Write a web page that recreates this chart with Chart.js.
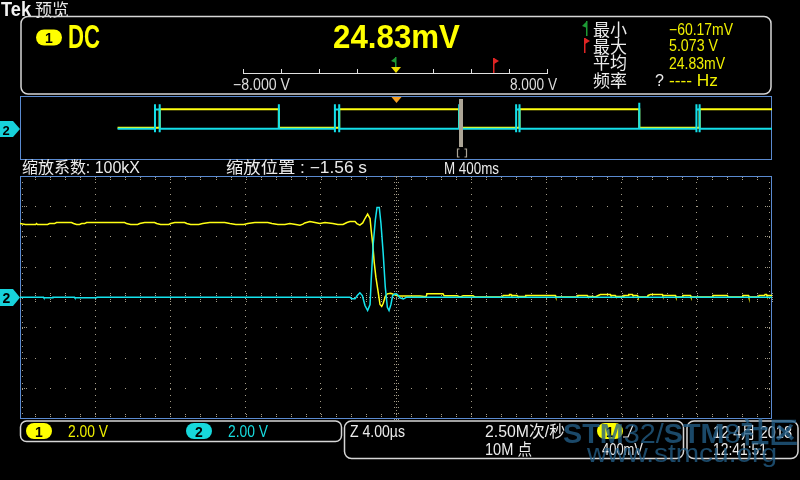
<!DOCTYPE html>
<html><head><meta charset="utf-8"><title>Tek 预览</title>
<script src="https://cdn.jsdelivr.net/npm/chart.js@4.4.1/dist/chart.umd.min.js"></script>
<style>
html,body{margin:0;padding:0;background:#000;}
#wrap{position:relative;width:800px;height:480px;overflow:hidden;background:#000}
#wrap canvas,#wrap svg{position:absolute;left:0;top:0}
svg text{font-family:"Liberation Sans","DejaVu Sans","Noto Sans CJK SC",sans-serif;}
svg .cjk{font-family:"Noto Sans CJK SC","Liberation Sans",sans-serif;}
</style></head>
<body><div id="wrap">
<canvas id="ov" width="800" height="480"></canvas>
<canvas id="main" width="800" height="480"></canvas>
<svg id="ui" width="800" height="480" viewBox="0 0 800 480">
  <!-- header -->
  <text x="1" y="16" font-family="Liberation Serif" font-weight="bold" font-size="20" fill="#f2f2f2" textLength="30" lengthAdjust="spacingAndGlyphs">Tek</text>
  <text class="cjk" x="35" y="15.5" font-size="17" fill="#e8e8e8" textLength="34" lengthAdjust="spacingAndGlyphs">预览</text>

  <!-- measurement box -->
  <rect x="21" y="16.5" width="750" height="77.5" rx="7" fill="none" stroke="#d6d6d6" stroke-width="1.5"/>
  <rect x="36" y="29.5" width="26" height="16" rx="8" fill="#ffff00"/>
  <text x="49" y="43" font-size="14" font-weight="bold" fill="#000" text-anchor="middle">1</text>
  <text x="68" y="48" font-size="34" font-weight="bold" fill="#ffff00" textLength="32" lengthAdjust="spacingAndGlyphs">DC</text>
  <text x="333" y="48" font-size="34" font-weight="bold" fill="#ffff00" textLength="127" lengthAdjust="spacingAndGlyphs">24.83mV</text>

  <!-- measurement scale bar -->
  <g stroke="#e0e0e0" stroke-width="1">
    <line x1="243" y1="73.5" x2="547.5" y2="73.5"/>
    <line x1="243.5" y1="69" x2="243.5" y2="74"/>
    <line x1="281.5" y1="69" x2="281.5" y2="74"/>
    <line x1="319.5" y1="69" x2="319.5" y2="74"/>
    <line x1="357.5" y1="69" x2="357.5" y2="74"/>
    <line x1="433.5" y1="69" x2="433.5" y2="74"/>
    <line x1="471.5" y1="69" x2="471.5" y2="74"/>
    <line x1="509.5" y1="69" x2="509.5" y2="74"/>
    <line x1="547.5" y1="69" x2="547.5" y2="74"/>
  </g>
  <rect x="395" y="57" width="1.5" height="10" fill="#1d9a35"/>
  <polygon points="391,61 396,57 396,63" fill="#1d9a35"/>
  <polygon points="391,67 401,67 396,73" fill="#f0e000"/>
  <rect x="493" y="58" width="1.5" height="15" fill="#e02424"/>
  <polygon points="494,58 499,61 494,64" fill="#e02424"/>
  <text x="233" y="90" font-size="16" fill="#dcdcdc" textLength="57" lengthAdjust="spacingAndGlyphs">−8.000 V</text>
  <text x="510" y="90" font-size="16" fill="#dcdcdc" textLength="47" lengthAdjust="spacingAndGlyphs">8.000 V</text>

  <!-- measurement list -->
  <rect x="586" y="21" width="1.5" height="15" fill="#1d9a35"/>
  <polygon points="582,26 587,21 587,28" fill="#1d9a35"/>
  <rect x="584" y="38" width="1.5" height="15" fill="#e02424"/>
  <polygon points="585,38 590,41 585,44" fill="#e02424"/>
  <text class="cjk" x="593" y="35.5" font-size="17" fill="#ececec" textLength="34" lengthAdjust="spacingAndGlyphs">最小</text>
  <text class="cjk" x="593" y="52.5" font-size="17" fill="#ececec" textLength="34" lengthAdjust="spacingAndGlyphs">最大</text>
  <text class="cjk" x="593" y="69" font-size="17" fill="#ececec" textLength="34" lengthAdjust="spacingAndGlyphs">平均</text>
  <text class="cjk" x="593" y="86.5" font-size="17" fill="#ececec" textLength="34" lengthAdjust="spacingAndGlyphs">频率</text>
  <text x="655" y="85.5" font-size="16" fill="#ececec">?</text>
  <text x="669" y="34.5" font-size="16" fill="#f0f000" textLength="64" lengthAdjust="spacingAndGlyphs">−60.17mV</text>
  <text x="669" y="51" font-size="16" fill="#f0f000" textLength="49" lengthAdjust="spacingAndGlyphs">5.073 V</text>
  <text x="669" y="68.5" font-size="16" fill="#f0f000" textLength="56" lengthAdjust="spacingAndGlyphs">24.83mV</text>
  <text x="669" y="85.5" font-size="16" fill="#f0f000" textLength="49" lengthAdjust="spacingAndGlyphs">---- Hz</text>

  <!-- overview decorations -->
  <polygon points="391.5,97 401.5,97 396.5,103" fill="#f5a023"/>
  <rect x="459" y="99" width="4" height="48" fill="#aca596"/>
  <path d="M459.5,149 h-2 v8 h2 M464.5,149 h2 v8 h-2" fill="none" stroke="#aca596" stroke-width="1.2"/>
  <polygon points="0,121 13,121 20,129 13,137 0,137" fill="#17d2db"/>
  <text x="6" y="134.5" font-size="13" font-weight="bold" fill="#000" text-anchor="middle">2</text>

  <!-- main ch2 marker -->
  <polygon points="0,289 13,289 20,297.5 13,306 0,306" fill="#17d2db"/>
  <text x="6.5" y="303" font-size="14" font-weight="bold" fill="#000" text-anchor="middle">2</text>

  <!-- zoom labels -->
  <text x="22" y="173" font-size="16" fill="#ececec" textLength="118" lengthAdjust="spacingAndGlyphs">缩放系数: 100kX</text>
  <text x="226" y="173" font-size="16" fill="#ececec" textLength="141" lengthAdjust="spacingAndGlyphs">缩放位置 : −1.56 s</text>
  <text x="444" y="173.5" font-size="16" fill="#ececec" textLength="55" lengthAdjust="spacingAndGlyphs">M 400ms</text>

  <!-- bottom status -->
  <rect x="20.5" y="421" width="321" height="20.5" rx="6" fill="none" stroke="#d6d6d6" stroke-width="1.5"/>
  <rect x="26" y="423" width="26" height="16" rx="8" fill="#ffff00"/>
  <text x="39" y="436.5" font-size="14" font-weight="bold" fill="#000" text-anchor="middle">1</text>
  <text x="68" y="437" font-size="16" fill="#f0f000" textLength="40" lengthAdjust="spacingAndGlyphs">2.00 V</text>
  <rect x="186" y="423" width="26" height="16" rx="8" fill="#17d8dc"/>
  <text x="199" y="436.5" font-size="14" font-weight="bold" fill="#000" text-anchor="middle">2</text>
  <text x="228" y="437" font-size="16" fill="#17dcdf" textLength="40" lengthAdjust="spacingAndGlyphs">2.00 V</text>

  <rect x="344.5" y="421" width="339" height="37.5" rx="7" fill="none" stroke="#d6d6d6" stroke-width="1.5"/>
  <text x="350" y="437" font-size="16" fill="#ececec" textLength="55" lengthAdjust="spacingAndGlyphs">Z 4.00µs</text>
  <text x="485" y="437" font-size="16" fill="#ececec" textLength="80" lengthAdjust="spacingAndGlyphs">2.50M次/秒</text>
  <text x="485" y="454.5" font-size="16" fill="#ececec" textLength="47" lengthAdjust="spacingAndGlyphs">10M 点</text>
  <rect x="597" y="423" width="26" height="16" rx="8" fill="#ffff00"/>
  <text x="610" y="436.5" font-size="14" font-weight="bold" fill="#000" text-anchor="middle">1</text>
  <path d="M623,437 L628,437 L633,425" fill="none" stroke="#ececec" stroke-width="1.2"/>
  <text x="602" y="454.5" font-size="16" fill="#ececec" textLength="41" lengthAdjust="spacingAndGlyphs">400mV</text>

  <rect x="687" y="421" width="111" height="37.5" rx="7" fill="none" stroke="#d6d6d6" stroke-width="1.5"/>
  <text x="713" y="437.5" font-size="16" fill="#ececec" textLength="79" lengthAdjust="spacingAndGlyphs">12 4月 2018</text>
  <text x="713" y="454.5" font-size="16" fill="#ececec" textLength="54" lengthAdjust="spacingAndGlyphs">12:41:51</text>

  <!-- watermark -->
  <g fill="#225d86" fill-opacity="0.78">
    <text x="563" y="443" font-size="28" textLength="235" lengthAdjust="spacingAndGlyphs"><tspan font-weight="bold">STM</tspan>32/<tspan font-weight="bold">STM</tspan>8<tspan font-weight="bold">社区</tspan></text>
    <text x="587" y="462" font-size="26" textLength="190" lengthAdjust="spacingAndGlyphs">www.stmcu.org</text>
  </g>
</svg>
</div>
<script>
// ---------------- data ----------------
// Main (zoomed) window: time in µs, amplitude in V (2 V/div, 4 µs/div)
const ch1Main = [
 [-20.0,4.87],[-19.71,4.81],[-19.17,4.81],[-19.12,4.87],[-19.07,4.81],[-18.53,4.81],[-18.43,4.87],[-18.16,4.87],
 [-18.06,4.94],[-17.26,4.94],[-17.15,4.87],[-16.99,4.81],[-16.83,4.81],[-16.72,4.87],[-16.56,4.87],[-16.46,4.94],
 [-14.43,4.94],[-14.33,4.87],[-14.11,4.81],[-13.74,4.81],[-13.63,4.87],[-13.37,4.94],[-12.84,4.94],[-12.73,4.87],
 [-12.52,4.81],[-12.09,4.81],[-11.98,4.87],[-11.77,4.94],[-11.24,4.94],[-11.13,4.87],[-10.92,4.81],[-10.49,4.81],
 [-10.28,4.87],[-9.91,4.94],[-9.11,4.94],[-8.84,4.87],[-8.52,4.81],[-8.10,4.81],[-7.88,4.87],[-7.51,4.94],
 [-6.82,4.94],[-6.60,4.87],[-6.28,4.81],[-5.91,4.81],[-5.65,4.87],[-5.33,4.81],[-5.11,4.76],[-4.95,4.83],
 [-4.85,4.91],[-4.58,5.00],[-4.31,4.94],[-4.05,4.87],[-3.78,4.94],[-3.36,4.87],[-3.09,4.81],[-2.82,4.81],
 [-2.61,4.94],[-2.45,5.00],[-2.18,5.00],[-2.08,4.87],
 [-1.92,4.76],[-1.77,4.91],[-1.65,5.20],[-1.51,5.49],[-1.38,5.20],[-1.32,4.43],[-1.24,3.55],[-1.16,2.33],
 [-1.07,1.34],[-0.96,0.46],[-0.85,-0.46],[-0.76,-0.59],[-0.68,-0.38],[-0.57,0.07],[-0.46,0.24],[-0.28,0.28],
 [-0.11,0.20],[0.07,0.11],[0.21,0.10],[1.28,0.10],[1.60,0.05],[1.65,0.24],[2.50,0.24],[2.56,0.11],
 [3.25,0.11],[3.41,0.03],[3.57,0.11],[4.10,0.11],[4.21,0.03],[5.65,0.03],[5.70,0.13],[6.02,0.13],
 [6.04,0.20],[6.12,0.20],[6.15,0.13],[6.44,0.13],[6.47,0.07],[6.87,0.07],[6.90,0.13],[8.47,0.13],
 [8.50,0.03],[9.64,0.03],[9.67,0.13],[10.17,0.13],[10.20,0.07],[10.49,0.07],[10.60,0.03],[10.76,0.13],
 [10.87,0.20],[11.40,0.20],[11.43,0.13],[11.66,0.13],[11.69,0.07],[12.09,0.07],[12.12,0.13],[12.36,0.13],
 [12.38,0.20],[12.57,0.20],[12.60,0.13],[12.84,0.13],[12.87,0.03],[13.37,0.03],[13.40,0.13],[13.53,0.20],
 [14.17,0.20],[14.19,0.13],[14.86,0.13],[14.89,0.03],[15.23,0.03],[15.26,0.13],[15.66,0.13],[15.69,0.03],
 [16.83,0.03],[16.86,0.13],[17.63,0.13],[17.66,0.03],[18.43,0.03],[18.45,0.13],[18.75,0.13],[18.77,0.03],
 [19.28,0.03],[19.31,0.13],[19.60,0.13],[19.63,0.20],[19.71,0.20],[19.73,0.13],[20.0,0.13]
];
const ch2Main = [
 [-20,0.02],[-18.75,0.02],[-18.73,-0.02],[-18.27,-0.02],[-18.25,0.02],[-17.10,0.02],[-17.08,-0.02],[-15.93,-0.02],
 [-15.90,0.02],[-2.45,0.02],[-2.36,-0.09],[-2.18,-0.09],[-2.06,0.13],[-1.92,0.31],[-1.79,0.13],[-1.65,-0.53],
 [-1.51,-0.86],[-1.38,-0.46],[-1.32,1.12],[-1.21,3.55],[-1.10,5.09],[-1.01,5.93],[-0.89,5.93],[-0.80,4.87],
 [-0.68,2.89],[-0.57,0.68],[-0.46,-0.64],[-0.37,-0.86],[-0.27,-0.46],[-0.18,0.13],[-0.05,0.24],[0.07,0.20],
 [0.21,-0.02],[0.39,-0.09],[0.57,0.02],[20,0.02]
];
// Overview record: time in ms (400 ms/div), amplitude in V
const ch1Overview = [
 [-1481,0.18],[-1257,0.18],[-1257,4.95],[-623,4.95],[-623,0.18],[-302,0.18],[-302,4.95],[336,4.95],
 [336,0.18],[657,0.18],[657,4.95],[1294,4.95],[1294,0.18],[1615,0.18],[1615,4.95],[2000,4.95]
];
const ch2Overview = [
 [-1481,-0.08],[-1282,-0.08],[-1282,6.2],[-1282,-0.97],[-1282,4.87],[-1257,4.87],[-1257,6.2],[-1257,-0.97],
 [-1257,-0.08],[-623,-0.08],[-623,6.2],[-623,-0.08],[-325,-0.08],[-325,6.2],[-325,-0.97],[-325,4.87],
 [-302,4.87],[-302,6.2],[-302,-0.97],[-302,-0.08],[336,-0.08],[336,6.2],[336,-0.08],[639,-0.08],
 [639,6.2],[639,-0.97],[639,4.87],[657,4.87],[657,6.2],[657,-0.97],[657,-0.08],[1294,-0.08],
 [1294,6.6],[1294,-0.08],[1598,-0.08],[1598,6.2],[1598,-0.97],[1598,4.87],[1615,4.87],[1615,6.2],
 [1615,-0.97],[1615,-0.08],[2000,-0.08]
];
// graticule
const xDivs = 10, yDivs = 8;
const timePerDiv = 4, voltsPerDiv = 2;
const ovTimePerDiv = 400;

const toXY = a => a.map(([x, y]) => ({x, y}));
const GRID = '#a49c88', FRAME = '#5a8ad0';

const frame = {
  id: 'frame',
  beforeDatasetsDraw(chart) {
    const {ctx, chartArea: a} = chart;
    ctx.save();
    ctx.strokeStyle = FRAME; ctx.lineWidth = 1;
    ctx.strokeRect(a.left + 0.5, a.top + 0.5, a.right - a.left - 1, a.bottom - a.top - 1);
    ctx.restore();
  }
};

const graticule = {
  id: 'graticule',
  beforeDatasetsDraw(chart) {
    const {ctx, chartArea: a, scales: {x, y}} = chart;
    const xmin = x.min, ymin = y.min;
    const xs = (x.max - x.min) / xDivs, ys = (y.max - y.min) / yDivs;
    const px = v => x.getPixelForValue(v), py = v => y.getPixelForValue(v);
    ctx.save();
    ctx.fillStyle = GRID;
    const dot = (X, Y) => ctx.fillRect(Math.round(X), Math.round(Y), 1, 1);
    // vertical grid lines
    for (let i = 1; i < xDivs; i++) {
      const X = px(xmin + i * xs) - 0.5;
      if (i === xDivs / 2) {
        for (let j = 0; j <= yDivs * 10; j++) {
          const Y = py(ymin + j * ys / 10);
          dot(X, Y);
          if (j % 2 === 0) { dot(X - 2, Y); dot(X + 2, Y); }
        }
      } else {
        for (let j = 1; j < yDivs * 5; j++) dot(X, py(ymin + j * ys / 5));
      }
    }
    // horizontal grid lines
    for (let j = 1; j < yDivs; j++) {
      const Y = py(ymin + j * ys) - 0.5;
      if (j === yDivs / 2) {
        for (let i = 0; i <= xDivs * 25; i++) dot(px(xmin + i * xs / 25), Y);
        for (let i = 0; i <= xDivs * 5; i++) {
          const X = px(xmin + i * xs / 5);
          dot(X, Y - 2); dot(X, Y - 4); dot(X, Y + 2); dot(X, Y + 4);
        }
      } else {
        for (let i = 1; i < xDivs * 5; i++) dot(px(xmin + i * xs / 5), Y);
        dot(a.left + 2, Y); dot(a.left + 4, Y); dot(a.left + 6, Y);
        dot(a.right - 3, Y); dot(a.right - 5, Y); dot(a.right - 7, Y);
      }
    }
    // edge ticks
    for (let i = 1; i < xDivs * 5; i++) {
      const X = px(xmin + i * xs / 5);
      dot(X, a.top + 1); dot(X, a.top + 3);
      dot(X, a.bottom - 3); dot(X, a.bottom - 5);
    }
    for (let j = 1; j < yDivs * 5; j++) {
      const Y = py(ymin + j * ys / 5);
      dot(a.left + 2, Y); dot(a.right - 3, Y);
    }
    ctx.restore();
  }
};

const baseOpts = (padding, xr, yr) => ({
  responsive: false, animation: false, devicePixelRatio: 1, events: [],
  layout: { padding },
  plugins: { legend: { display: false }, tooltip: { enabled: false } },
  scales: {
    x: { type: 'linear', min: xr[0], max: xr[1], display: false },
    y: { type: 'linear', min: yr[0], max: yr[1], display: false }
  }
});

new Chart(document.getElementById('ov'), {
  type: 'line',
  data: { datasets: [
    { data: toXY(ch2Overview), borderColor: '#14e0ea', borderWidth: 2, pointRadius: 0, tension: 0, order: 0 },
    { data: toXY(ch1Overview), borderColor: '#ffff10', borderWidth: 2, pointRadius: 0, tension: 0, order: 1 }
  ]},
  options: baseOpts({ left: 20, right: 28, top: 96, bottom: 320 },
    [-ovTimePerDiv * xDivs / 2, ovTimePerDiv * xDivs / 2], [-8.08, 8.33]),
  plugins: [frame]
});

new Chart(document.getElementById('main'), {
  type: 'line',
  data: { datasets: [
    { data: toXY(ch2Main), borderColor: '#14e4ee', borderWidth: 1.5, pointRadius: 0, tension: 0, order: 0 },
    { data: toXY(ch1Main), borderColor: '#ffff14', borderWidth: 1.5, pointRadius: 0, tension: 0, order: 1 }
  ]},
  options: baseOpts({ left: 20, right: 28, top: 176, bottom: 61 },
    [-timePerDiv * xDivs / 2, timePerDiv * xDivs / 2], [-voltsPerDiv * yDivs / 2, voltsPerDiv * yDivs / 2]),
  plugins: [frame, graticule]
});
</script>
</body></html>
